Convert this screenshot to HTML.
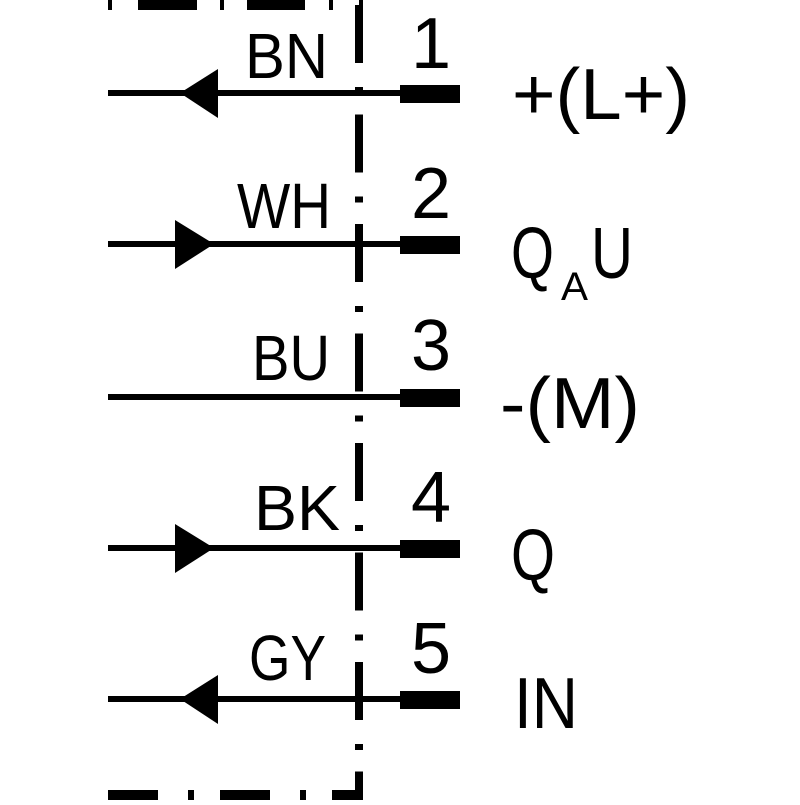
<!DOCTYPE html>
<html><head><style>html,body{margin:0;padding:0;background:#fff}</style></head>
<body>
<svg width="800" height="800" viewBox="0 0 800 800" xmlns="http://www.w3.org/2000/svg" font-family="Liberation Sans, sans-serif" fill="#000">
<!-- frame -->
<line x1="359" y1="5" x2="359" y2="800" stroke="#000" stroke-width="8" stroke-dasharray="58 24 6 21.5"/>
<line x1="108" y1="5" x2="363" y2="5" stroke="#000" stroke-width="10" stroke-dasharray="4 26 59 23 4 23 58 24 4 26 30"/>
<line x1="108" y1="795" x2="363" y2="795" stroke="#000" stroke-width="10" stroke-dasharray="50 30 6 26 50 30 6 26 40"/>
<!-- wires -->
<g stroke="#000" stroke-width="6">
<line x1="108" y1="93" x2="400" y2="93"/>
<line x1="108" y1="244" x2="400" y2="244"/>
<line x1="108" y1="397" x2="400" y2="397"/>
<line x1="108" y1="548" x2="400" y2="548"/>
<line x1="108" y1="699" x2="400" y2="699"/>
</g>
<rect x="400" y="85" width="60" height="18"/>
<rect x="400" y="236" width="60" height="18"/>
<rect x="400" y="389" width="60" height="18"/>
<rect x="400" y="540" width="60" height="18"/>
<rect x="400" y="691" width="60" height="18"/>
<!-- arrows -->
<polygon points="180,93 218,69 218,118"/>
<polygon points="214,244 175,220 175,269"/>
<polygon points="214,548 175,524 175,573"/>
<polygon points="180,699 218,675 218,724"/>
<!-- labels -->
<g font-size="64">
<text x="245" y="78" textLength="83" lengthAdjust="spacingAndGlyphs">BN</text>
<text x="237" y="228" textLength="94" lengthAdjust="spacingAndGlyphs">WH</text>
<text x="252" y="380" textLength="78" lengthAdjust="spacingAndGlyphs">BU</text>
<text x="254" y="530" textLength="86" lengthAdjust="spacingAndGlyphs">BK</text>
<text x="249" y="680" textLength="77" lengthAdjust="spacingAndGlyphs">GY</text>
</g>
<g font-size="72" text-anchor="middle">
<text x="431" y="68">1</text>
<text x="431" y="218">2</text>
<text x="431" y="370">3</text>
<text x="431" y="522">4</text>
<text x="431" y="673">5</text>
</g>
<g font-size="72">
<text x="512" y="119" textLength="178" lengthAdjust="spacingAndGlyphs">+(L+)</text>
<text x="511" y="278" textLength="43" lengthAdjust="spacingAndGlyphs">Q</text>
<text x="561" y="300" font-size="40" textLength="27" lengthAdjust="spacingAndGlyphs">A</text>
<text x="591" y="278" textLength="42" lengthAdjust="spacingAndGlyphs">U</text>
<text x="500" y="428" textLength="140" lengthAdjust="spacingAndGlyphs">-(M)</text>
<text x="511" y="580" textLength="44" lengthAdjust="spacingAndGlyphs">Q</text>
<text x="514" y="728" textLength="64" lengthAdjust="spacingAndGlyphs">IN</text>
</g>
</svg>
</body></html>
